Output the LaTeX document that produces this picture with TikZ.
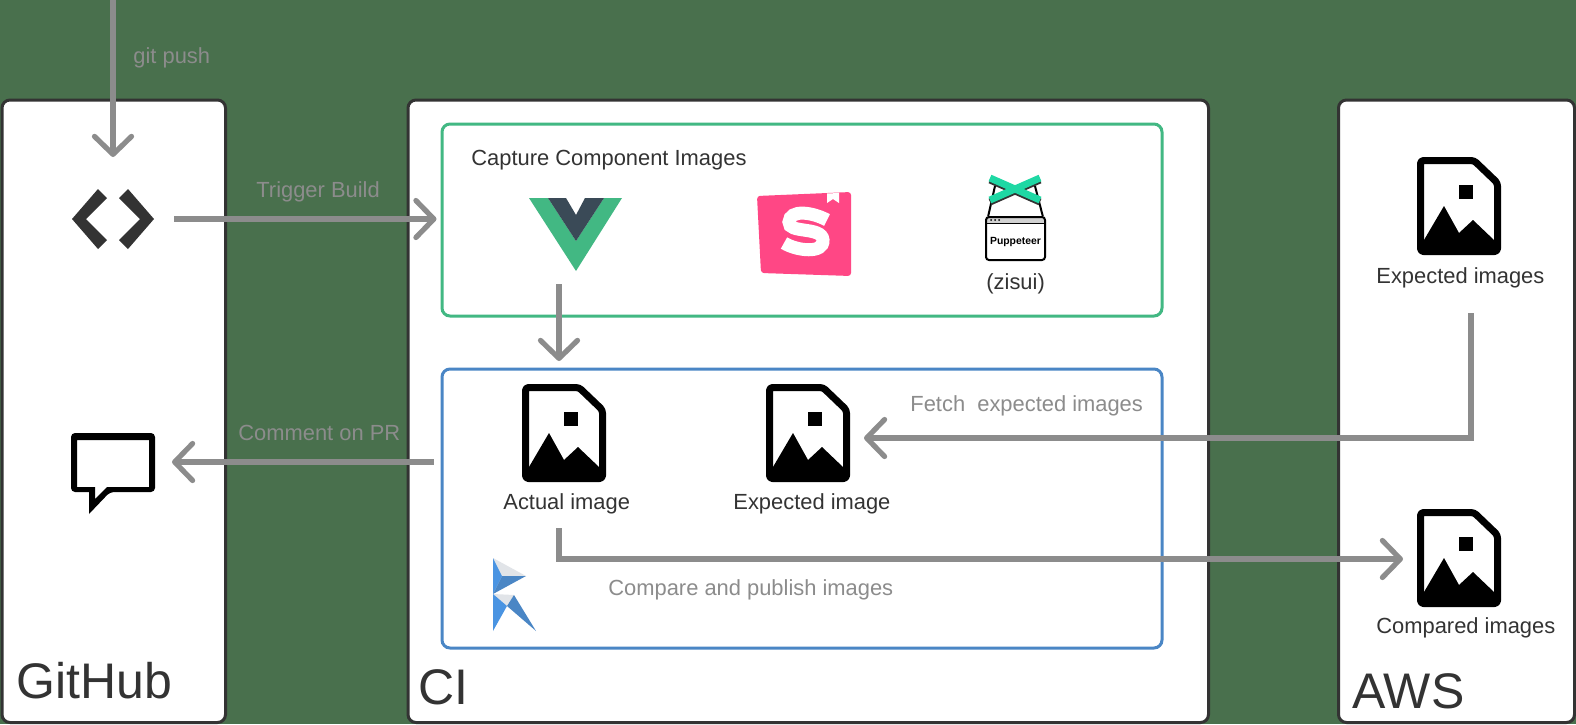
\documentclass[tikz,border=0pt]{standalone}
\usepackage{fontspec}
\setmainfont{Liberation Sans}
\usetikzlibrary{arrows.meta}
\usetikzlibrary{positioning}
\definecolor{backdrop}{HTML}{49704D}
\definecolor{inkdark}{HTML}{333333}
\definecolor{flowgrey}{HTML}{8C8C8C}
\definecolor{vuegreen}{HTML}{42B883}
\definecolor{vuedark}{HTML}{3A4A57}
\definecolor{regblue}{HTML}{4A86C5}
\definecolor{reglight}{HTML}{4A94E2}
\definecolor{regpale}{HTML}{E1E4E8}
\definecolor{storypink}{HTML}{FF4785}
\definecolor{puppetgreen}{HTML}{1FD8A4}
\tikzset{
    panelbox/.style={draw=inkdark,fill=white,line width=1.5pt,rounded corners=4pt,inner sep=0pt},
    stagebox/.style={fill=white,line width=1.5pt,rounded corners=4pt,inner sep=0pt},
    anchorbox/.style={inner sep=0pt,outer sep=0pt},
    darktext/.style={text=inkdark,inner sep=0pt,anchor=base west,font=\fontsize{10.95}{13}\selectfont},
    dimtext/.style={text=flowgrey,inner sep=0pt,anchor=base west,font=\fontsize{10.95}{13}\selectfont},
    bigtext/.style={text=inkdark,inner sep=0pt,anchor=base west,font=\fontsize{25}{30}\selectfont},
    flow/.style={draw=flowgrey,line width=2.6pt,->},
    imageicon/.pic={
        \draw[line width=3.5pt,rounded corners=1.5pt,line join=round] (-38.5,-45.5) -- (15,-45.5) -- (38.5,-23) -- (38.5,45.5) -- (-38.5,45.5) -- cycle;
        \fill (0,-21) rectangle (14,-7);
        \fill (-35,34) -- (-15,0) -- (0,27) -- (14,14) -- (35,34) -- (35,45.5) -- (-35,45.5) -- cycle;
    },
}
\begin{document}
\begin{tikzpicture}[x=0.5pt,y=-0.5pt,>={Straight Barb[length=9pt,width=18.5pt,round]}]
    \useasboundingbox (0,0) rectangle (1576,724);
    \fill[backdrop] (0,0) rectangle (1576,724);

    \node[panelbox,minimum width=111.75pt,minimum height=311.25pt] (github) at (113.75,411.25) {};
    \node[panelbox,minimum width=400.25pt,minimum height=311.25pt] (ci) at (808.25,411.25) {};
    \node[panelbox,minimum width=118pt,minimum height=311.25pt] (aws) at (1456.5,411.25) {};
    \node[stagebox,draw=vuegreen,minimum width=360pt,minimum height=96pt] (capture) at (802,220) {};
    \node[stagebox,draw=regblue,minimum width=360pt,minimum height=139.5pt] (compare) at (802,508.5) {};

    \node[anchorbox,minimum width=61pt,minimum height=62pt] (code) at (113,219) {};
    \node[anchorbox,minimum width=59pt,minimum height=30pt] (comment) at (113,462) {};
    \node[anchorbox,minimum width=40pt,minimum height=44pt] (vue) at (559,240) {};
    \node[anchorbox,minimum width=40pt,minimum height=72pt] (actual) at (564,433) {};
    \node[anchorbox,minimum width=56pt,minimum height=40pt] (expected) at (808,438) {};
    \node[anchorbox,minimum width=56pt,minimum height=40pt] (compared) at (1459,559) {};
    \coordinate (pushstart) at (113,0);
    \coordinate (fetchstart) at (1471,313);
    \coordinate (publishstart) at (559,528);

    \fill[inkdark] (72,219) -- (98,189) -- (107,198) -- (86,219) -- (107,240) -- (98,249) -- cycle;
    \fill[inkdark] (154,219) -- (128,189) -- (119,198) -- (140,219) -- (119,240) -- (128,249) -- cycle;
    \fill[even odd rule] [rounded corners=2pt] (71,433) -- (155,433) -- (155,492) -- (110,492) [sharp corners] -- (89,514) -- (89,492) [rounded corners=2pt] -- (71,492) -- cycle
        [sharp corners] (77,440) -- (149,440) -- (149,487) -- (107,487) -- (95,499) -- (95,487) -- (77,487) -- cycle;

    \pic at (564,433) {imageicon};
    \pic at (808,433) {imageicon};
    \pic at (1459,206) {imageicon};
    \pic at (1459,558) {imageicon};

    \fill[vuegreen] (529,198) -- (548,198) -- (576,241) -- (604,198) -- (622,198) -- (576,271) -- cycle;
    \fill[vuedark] (548,198) -- (566,198) -- (576,215) -- (585,198) -- (604,198) -- (576,241) -- cycle;

    \fill[storypink,rounded corners=1.5pt] (757,196) -- (851,192) -- (851,276) -- (761,273) -- cycle;
    \fill[white] (827,193.5) -- (839,193) -- (839,203) -- (833,199) -- (827,203) -- cycle;
    \draw[white,line width=6.5pt] (827,220) .. controls (812,212) and (790,209) .. (789,222) .. controls (788,234) and (822,226) .. (823,240) .. controls (824,254) and (797,251) .. (784,243);

    \draw[line width=1pt] (995,186) -- (988,217) (1035,186) -- (1043,217);
    \draw[line width=3.5pt,inkdark] (990,180) -- (1040,202) (1040,180) -- (990,202);
    \draw[line width=3.5pt,puppetgreen] (990,178) -- (1040,200) (1040,178) -- (990,200);
    \fill[gray!35,rounded corners=1pt] (986,216) rectangle (1045,223);
    \draw[line width=1pt,rounded corners=1.5pt] (986,217) rectangle (1045,260);
    \draw[line width=0.5pt] (986,223) -- (1045,223);
    \fill (991,220) circle (1) (995,220) circle (1) (999,220) circle (1);
    \node[anchor=base,inner sep=0pt,font=\bfseries\fontsize{5.2}{6}\selectfont] (puppeteer) at (1015.5,244) {Puppeteer};

    \fill[regpale] (493,558) -- (526,576) -- (502,576) -- cycle;
    \fill[reglight] (493,558) -- (502,576) -- (493,594) -- cycle;
    \fill[regblue] (502,576) -- (526,576) -- (493,594) -- cycle;
    \fill[regpale] (493,594) -- (514,595) -- (507,606) -- cycle;
    \fill[reglight] (493,594) -- (507,606) -- (493,631) -- cycle;
    \fill[regblue] (514,595) -- (536,631) -- (507,606) -- cycle;

    \node[dimtext] (pushlabel) at (133,63) {git push};
    \node[dimtext] (buildlabel) at (256,197) {Trigger Build};
    \node[dimtext] (commentlabel) at (238,440) {Comment on PR};
    \node[dimtext] (fetchlabel) at (910,411) {Fetch~~expected images};
    \node[dimtext] (publishlabel) at (608,595) {Compare and publish images};
    \node[darktext] (capturelabel) at (471,165) {Capture Component Images};
    \node[darktext] (zisuilabel) at (986,289) {(zisui)};
    \node[darktext] (actuallabel) at (503,509) {Actual image};
    \node[darktext] (expectedlabel) at (733,509) {Expected image};
    \node[darktext] (storedlabel) at (1376,283) {Expected images};
    \node[darktext] (comparedlabel) at (1376,633) {Compared images};
    \node[bigtext] (githublabel) at (16,698) {GitHub};
    \node[bigtext] (cilabel) at (418,704) {CI};
    \node[bigtext] (awslabel) at (1352,708) {AWS};

    \draw[flow] (pushstart) -- (code.north);
    \draw[flow,shorten >=2pt] (code.east) -- (code.east -| capture.west);
    \draw[flow,shorten <=3.5pt] (comment.east -| compare.west) -- (comment.east);
    \draw[flow] (vue.south) -- (vue.south |- actual.north);
    \draw[flow] (fetchstart) |- (expected.east);
    \draw[flow] (publishstart) |- (compared.west);
\end{tikzpicture}
\end{document}
